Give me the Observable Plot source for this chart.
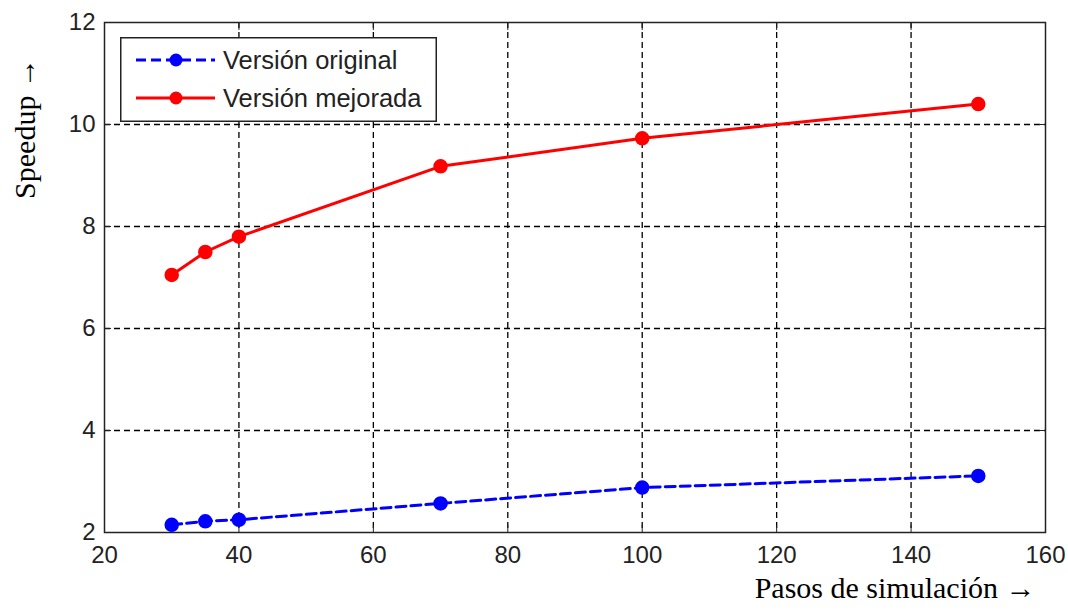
<!DOCTYPE html>
<html><head><meta charset="utf-8">
<script src="https://cdn.jsdelivr.net/npm/d3@7"></script>
<script src="https://cdn.jsdelivr.net/npm/@observablehq/plot@0.6"></script>
<style>
body{margin:0;background:#fff}
#wrap{position:relative;width:1068px;height:612px}
#legend{position:absolute;left:120px;top:37px}
</style>
</head><body><div id="wrap"></div>
<script>
const steps = [30, 35, 40, 70, 100, 150];
const original = [2.15, 2.22, 2.25, 2.57, 2.88, 3.11];
const improved = [7.05, 7.5, 7.8, 9.18, 9.73, 10.4];
const xTicks = [20, 40, 60, 80, 100, 120, 140, 160];
const yTicks = [2, 4, 6, 8, 10, 12];
const seriesNames = ["Versión original", "Versión mejorada"];
const seriesColors = ["#0000ff", "#ff0000"];
const xLabel = "Pasos de simulación →";
const yLabel = "Speedup →";

const data = [
  ...steps.map((s, i) => ({x: s, y: original[i], series: seriesNames[0]})),
  ...steps.map((s, i) => ({x: s, y: improved[i], series: seriesNames[1]}))
];
const orig = data.filter(d => d.series === seriesNames[0]);
const impr = data.filter(d => d.series === seriesNames[1]);

const sans = "'Liberation Sans', Arial, Helvetica, sans-serif";
const serif = "'Liberation Serif', 'Times New Roman', serif";

const chart = Plot.plot({
  width: 1068,
  height: 612,
  marginLeft: 104,
  marginRight: 23,
  marginTop: 22,
  marginBottom: 80,
  style: {fontFamily: sans, fontSize: "24px", color: "#222", background: "#fff"},
  x: {domain: [20, 160], ticks: xTicks},
  y: {domain: [2, 12], ticks: yTicks},
  marks: [
    Plot.ruleX(xTicks.slice(1, -1), {stroke: "#000", strokeWidth: 1.3, strokeDasharray: "6,4"}),
    Plot.ruleY(yTicks.slice(1, -1), {stroke: "#000", strokeWidth: 1.3, strokeDasharray: "6,4"}),
    Plot.axisX({anchor: "bottom", ticks: xTicks, tickSize: 0, tickPadding: 13, label: null, fontSize: 24}),
    Plot.axisY({anchor: "left", ticks: yTicks, tickSize: 0, tickPadding: 9, label: null, fontSize: 24}),
    Plot.axisX({anchor: "bottom", ticks: xTicks, tickSize: -7, tickFormat: () => "", label: null}),
    Plot.axisX({anchor: "top", ticks: xTicks, tickSize: -7, tickFormat: () => "", label: null}),
    Plot.axisY({anchor: "left", ticks: yTicks, tickSize: -7, tickFormat: () => "", label: null}),
    Plot.axisY({anchor: "right", ticks: yTicks, tickSize: -7, tickFormat: () => "", label: null}),
    Plot.frame({stroke: "#222", strokeWidth: 1.5}),
    Plot.line(orig, {x: "x", y: "y", stroke: seriesColors[0], strokeWidth: 3, strokeDasharray: "10,5"}),
    Plot.dot(orig, {x: "x", y: "y", r: 6.5, fill: seriesColors[0], stroke: seriesColors[0]}),
    Plot.line(impr, {x: "x", y: "y", stroke: seriesColors[1], strokeWidth: 3}),
    Plot.dot(impr, {x: "x", y: "y", r: 6.5, fill: seriesColors[1], stroke: seriesColors[1]}),
    Plot.text([xLabel], {frameAnchor: "bottom-right", textAnchor: "end", dx: -10, dy: 65, fontFamily: serif, fontSize: 30, fill: "#000"}),
    Plot.text([yLabel], {frameAnchor: "left", textAnchor: "middle", rotate: -90, dx: -79, dy: -149, fontFamily: serif, fontSize: 30, fill: "#000"})
  ]
});

const wrap = document.getElementById("wrap");
wrap.appendChild(chart);

// Legend
const lw = 317, lh = 85;
const leg = d3.select(wrap).append("svg").attr("id", "legend").attr("width", lw).attr("height", lh);
leg.append("rect").attr("x", 0.75).attr("y", 0.75).attr("width", lw - 1.5).attr("height", lh - 1.5)
  .attr("fill", "#fff").attr("stroke", "#222").attr("stroke-width", 1.5);
seriesNames.forEach((name, i) => {
  const cy = 23 + i * 38;
  leg.append("line").attr("x1", 16).attr("x2", 95).attr("y1", cy).attr("y2", cy)
    .attr("stroke", seriesColors[i]).attr("stroke-width", 3)
    .attr("stroke-dasharray", i === 0 ? "10,5" : null);
  leg.append("circle").attr("cx", 56).attr("cy", cy).attr("r", 6.5).attr("fill", seriesColors[i]);
  leg.append("text").attr("x", 103).attr("y", cy).attr("dy", "0.35em")
    .attr("font-family", sans).attr("font-size", 25.5).attr("fill", "#222").text(name);
});
</script>
</body></html>
